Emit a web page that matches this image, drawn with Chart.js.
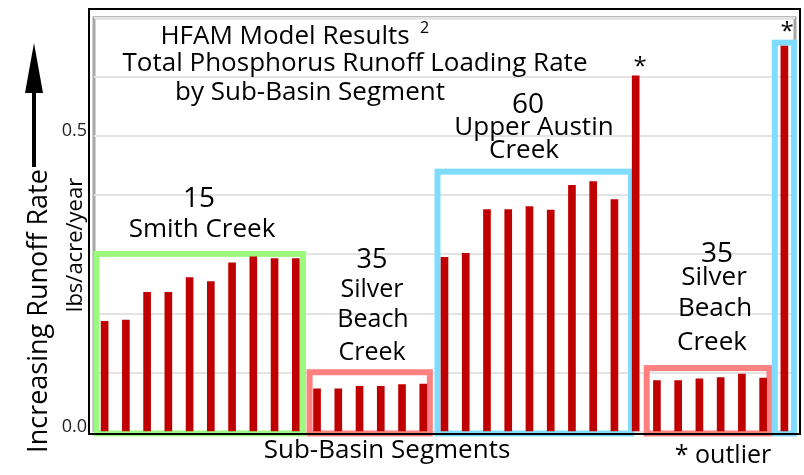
<!DOCTYPE html>
<html>
<head>
<meta charset="utf-8">
<script src="https://cdn.jsdelivr.net/npm/chart.js@4.4.1/dist/chart.umd.min.js"></script>
<style>
  html, body { margin: 0; padding: 0; background: #fff; }
  #wrap { width: 804px; height: 475px; }
</style>
</head>
<body>
<div id="wrap"><canvas id="chart" width="804" height="475"></canvas></div>
<script>
// Runoff loading rate per sub-basin segment (lbs/acre/year)
const smithCreek   = [0.187, 0.189, 0.236, 0.236, 0.261, 0.254, 0.286, 0.296, 0.293, 0.293];
const silverBeachA = [0.073, 0.073, 0.077, 0.077, 0.080, 0.081];
const upperAustin  = [0.295, 0.302, 0.376, 0.376, 0.381, 0.375, 0.417, 0.423, 0.393];
const outlierA     = [0.602];
const silverBeachB = [0.087, 0.087, 0.090, 0.092, 0.098, 0.091];
const outlierB     = [0.652];

const yTickLabels = ['0.0', '0.5'];

// one category per segment
const segments = [
  ...smithCreek.map((v, i) => 'Smith Creek ' + (i + 1)),
  ...silverBeachA.map((v, i) => 'Silver Beach A ' + (i + 1)),
  ...upperAustin.map((v, i) => 'Upper Austin Creek ' + (i + 1)),
  'Outlier A',
  ...silverBeachB.map((v, i) => 'Silver Beach B ' + (i + 1)),
  'Outlier B'
];
const loading = [...smithCreek, ...silverBeachA, ...upperAustin, ...outlierA, ...silverBeachB, ...outlierB];

const FONT = "'Open Sans', 'Noto Sans', sans-serif";

// group frames: first/last category index, how far past the bar centres, top value
const groupBoxes = [
  {from: 0,  to: 9,  padL: 0.38, padR: 0.34, top: 0.301, color: '#9dfa7e'},
  {from: 10, to: 15, padL: 0.35, padR: 0.31, top: 0.101, color: '#ff8080'},
  {from: 16, to: 24, padL: 0.33, padR: 0.78, top: 0.440, color: '#80dcff'},
  {from: 26, to: 31, padL: 0.48, padR: 0.30, top: 0.108, color: '#ff8080'},
  {from: 32, to: 32, padL: 0.45, padR: 0.45, top: 0.658, color: '#80dcff'}
];

const boxPlugin = {
  id: 'groupBoxes',
  beforeDatasetsDraw(chart) {
    const {ctx, scales: {x, y}} = chart;
    const step = x.getPixelForValue(1) - x.getPixelForValue(0);
    ctx.save();
    ctx.lineWidth = 6;
    groupBoxes.forEach(b => {
      const l = x.getPixelForValue(b.from) - b.padL * step;
      const r = x.getPixelForValue(b.to) + b.padR * step;
      const t = y.getPixelForValue(b.top);
      const btm = y.getPixelForValue(0) + 1.5;
      ctx.strokeStyle = b.color;
      ctx.strokeRect(l, t, r - l, btm - t);
    });
    ctx.restore();
  }
};

function text(ctx, s, x, y, size, align) {
  ctx.font = size + 'px ' + FONT;
  ctx.textAlign = align || 'center';
  ctx.fillText(s, x, y);
}

const decorPlugin = {
  id: 'decor',
  beforeDraw(chart) {
    const {ctx, chartArea: a} = chart;
    ctx.save();
    // inner grey frame
    ctx.strokeStyle = '#a6a6a6';
    ctx.lineWidth = 3;
    ctx.beginPath();
    ctx.moveTo(a.left, a.bottom);
    ctx.lineTo(a.left, a.top);
    ctx.lineTo(a.right, a.top);
    ctx.lineTo(a.right, a.bottom);
    ctx.stroke();
    ctx.restore();
  },
  afterDraw(chart) {
    const {ctx, chartArea: a} = chart;
    ctx.save();
    // outer black frame
    ctx.strokeStyle = '#000';
    ctx.lineWidth = 2;
    ctx.strokeRect(89, 9, a.right + 5 - 89, a.bottom + 2 - 9);

    ctx.fillStyle = '#000';
    ctx.textBaseline = 'alphabetic';

    // title
    text(ctx, 'HFAM Model Results', 285, 44, 26);
    text(ctx, '2', 420, 33, 16, 'left');
    text(ctx, 'Total Phosphorus Runoff Loading Rate', 355, 71, 26);
    text(ctx, 'by Sub-Basin Segment', 310, 100, 26);

    // group labels
    text(ctx, '15', 199, 207, 28);
    text(ctx, 'Smith Creek', 202, 237, 26);

    text(ctx, '35', 372, 268, 27);
    text(ctx, 'Silver', 372, 297, 25);
    text(ctx, 'Beach', 373, 327, 25);
    text(ctx, 'Creek', 372, 360, 25);

    text(ctx, '60', 528, 113, 28);
    text(ctx, 'Upper Austin', 534, 135, 26);
    text(ctx, 'Creek', 524, 158, 26);

    text(ctx, '35', 717, 262, 28);
    text(ctx, 'Silver', 714, 285, 26);
    text(ctx, 'Beach', 715, 316, 26);
    text(ctx, 'Creek', 712, 350, 26);

    text(ctx, '*', 640, 74, 24);
    text(ctx, '*', 787, 39, 24);

    text(ctx, 'Sub-Basin Segments', 387, 458, 26);
    text(ctx, '* outlier', 723, 463, 25);

    // rotated axis texts
    ctx.save();
    ctx.translate(47, 311);
    ctx.rotate(-Math.PI / 2);
    text(ctx, 'Increasing Runoff Rate', 0, 0, 27);
    ctx.restore();

    ctx.save();
    ctx.translate(82, 245);
    ctx.rotate(-Math.PI / 2);
    text(ctx, 'lbs/acre/year', 0, 0, 22);
    ctx.restore();

    // arrow
    ctx.fillRect(32, 92, 4, 75);
    ctx.beginPath();
    ctx.moveTo(34, 43);
    ctx.lineTo(43, 93);
    ctx.lineTo(25, 93);
    ctx.closePath();
    ctx.fill();
    ctx.restore();
  }
};

new Chart(document.getElementById('chart'), {
  type: 'bar',
  data: {
    labels: segments,
    datasets: [{
      data: loading,
      backgroundColor: '#c00000',
      barThickness: 7
    }]
  },
  plugins: [boxPlugin, decorPlugin],
  options: {
    responsive: false,
    animation: false,
    layout: {padding: {left: 0, top: 13, right: 9, bottom: 43}},
    plugins: {legend: {display: false}, tooltip: {enabled: false}},
    scales: {
      x: {display: false},
      y: {
        min: 0,
        max: 0.7,
        afterFit(scale) { scale.width = 94; },
        border: {display: false},
        grid: {color: '#e3e3e3', lineWidth: 2, drawTicks: false},
        ticks: {
          stepSize: 0.1,
          padding: 7,
          labelOffset: -5,
          color: '#222',
          font: {family: FONT, size: 18},
          callback(v) {
            if (Math.abs(v) < 1e-9) return yTickLabels[0];
            if (Math.abs(v - 0.5) < 1e-9) return yTickLabels[1];
            return '';
          }
        }
      }
    }
  }
});
</script>
</body>
</html>
